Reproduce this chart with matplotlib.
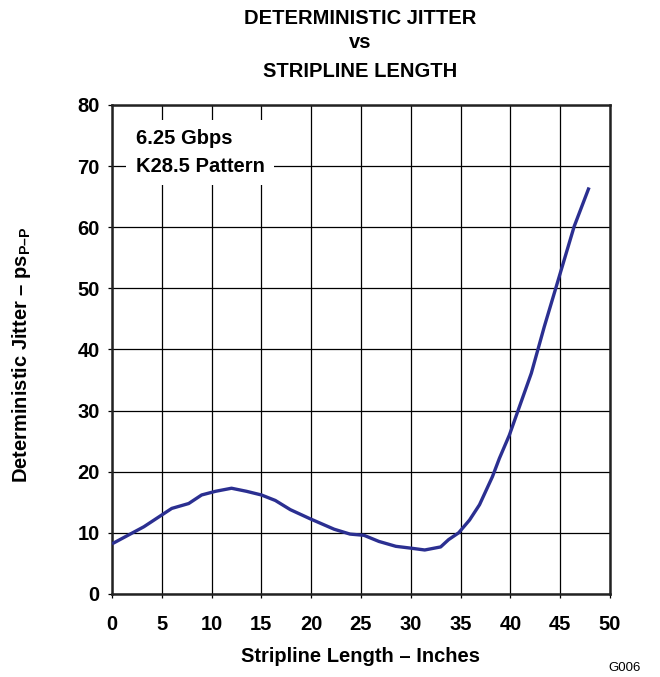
import matplotlib.pyplot as plt
import numpy as np

plt.rcParams['font.family'] = ['Liberation Sans', 'DejaVu Sans']
plt.rcParams['mathtext.fontset'] = 'custom'
plt.rcParams['mathtext.bf'] = 'Liberation Sans:bold'
plt.rcParams['mathtext.rm'] = 'Liberation Sans'

# stripline length (inches) vs deterministic jitter (ps p-p)
length = [0, 3.2, 6.0, 7.7, 9.0, 10.4, 12.0, 13.5, 15.0, 16.4, 17.9, 19.9,
          22.3, 23.9, 25.3, 26.8, 28.5, 30.0, 31.4, 33.0, 33.8, 34.8, 35.9,
          36.9, 38.2, 38.9, 39.9, 40.9, 42.1, 43.4, 44.7, 46.4, 47.9]
jitter = [8.2, 11.0, 14.0, 14.8, 16.2, 16.8, 17.3, 16.8, 16.2, 15.3, 13.8, 12.3,
          10.6, 9.8, 9.6, 8.6, 7.8, 7.5, 7.2, 7.7, 8.9, 10.0, 12.1,
          14.6, 19.2, 22.2, 26.0, 30.6, 36.1, 43.7, 50.8, 60.1, 66.5]

xticks = np.arange(0, 51, 5)
yticks = np.arange(0, 81, 10)

fs = 14.5

fig = plt.figure(figsize=(6.6, 6.77), dpi=100)
ax = fig.add_axes([0.1697, 0.1226, 0.7545, 0.7224])

ax.plot(length, jitter, color='#2b2f91', lw=2.4, solid_capstyle='butt', zorder=3)

ax.set_xlim(0, 50)
ax.set_ylim(0, 80)
ax.set_xticks(xticks)
ax.set_yticks(yticks)
ax.grid(True, color='black', lw=0.9)
ax.tick_params(labelsize=fs, length=3, width=0.9)
ax.tick_params(axis='x', pad=12)
ax.tick_params(axis='y', pad=6)
for lab in ax.get_xticklabels() + ax.get_yticklabels():
    lab.set_fontweight('bold')
for s in ax.spines.values():
    s.set_linewidth(1.8)
    s.set_color('#222222')

ax.set_xlabel('Stripline Length \u2013 Inches', fontsize=fs, fontweight='bold')
ax.xaxis.set_label_coords(0.5, -0.108)
ax.set_ylabel('Deterministic Jitter \u2013 ps$\\mathbf{_{P\u2013P}}$', fontsize=fs,
              fontweight='bold')
ax.yaxis.set_label_coords(-0.158, 0.49)

ax.text(2.4, 76.0, '6.25 Gbps\nK28.5 Pattern', fontsize=fs, fontweight='bold',
        va='top', ha='left', linespacing=1.55,
        bbox=dict(facecolor='white', edgecolor='none', pad=7), zorder=4)

fig.text(0.545, 0.972, 'DETERMINISTIC JITTER', ha='center', va='center',
         fontsize=fs, fontweight='bold')
fig.text(0.545, 0.937, 'vs', ha='center', va='center', fontsize=fs, fontweight='bold')
fig.text(0.545, 0.895, 'STRIPLINE LENGTH', ha='center', va='center',
         fontsize=fs, fontweight='bold')
fig.text(0.947, 0.0133, 'G006', ha='center', va='center', fontsize=9.5)

plt.savefig('out.png', dpi=100)
